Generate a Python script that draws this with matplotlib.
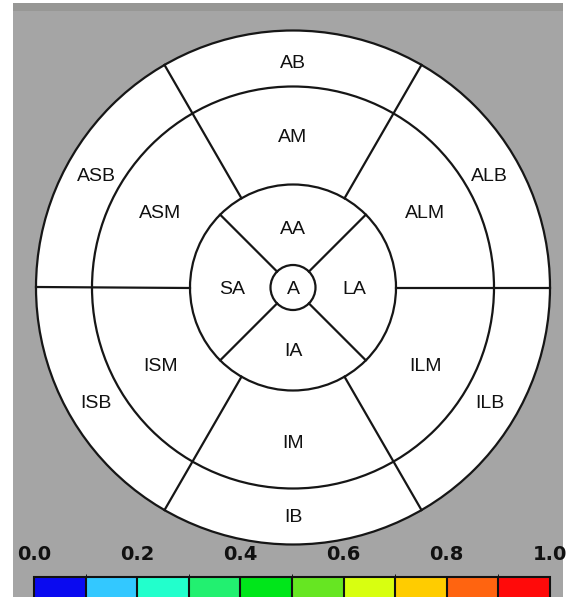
import numpy as np
import matplotlib
matplotlib.use("Agg")
import matplotlib.pyplot as plt
from matplotlib.patches import Circle, Rectangle
from matplotlib.colors import ListedColormap, BoundaryNorm
from matplotlib.cm import ScalarMappable

# --- segment names of the bull's eye (counter-clockwise from top) ---
basal_labels = ["AB", "ASB", "ISB", "IB", "ILB", "ALB"]
basal_angles = [90, 150, 210, 270, 330, 30]
mid_labels = ["AM", "ASM", "ISM", "IM", "ILM", "ALM"]
mid_angles = [90, 150, 210, 270, 330, 30]
apical_labels = ["AA", "SA", "IA", "LA"]
apical_angles = [90, 180, 270, 0]
apex_label = "A"

# segment borders (degrees)
outer_borders = [0, 60, 120, 180, 240, 300]
apical_borders = [45, 135, 225, 315]

# --- colour scale ---
scale_bounds = [0.0, 0.1, 0.2, 0.3, 0.4, 0.5, 0.6, 0.7, 0.8, 0.9, 1.0]
scale_ticks = [0.0, 0.2, 0.4, 0.6, 0.8, 1.0]
scale_colors = ["#0a0af0", "#33c8ff", "#22ffcc", "#22f070", "#00e61a",
                "#66e622", "#d8ff10", "#ffcc00", "#ff6410", "#ff0a0a"]

W, H = 571, 597
fig = plt.figure(figsize=(W / 100, H / 100), dpi=100, facecolor="white")
ax = fig.add_axes([0, 0, 1, 1])
ax.set_xlim(0, W)
ax.set_ylim(H, 0)
ax.axis("off")

# grey panel
ax.add_patch(Rectangle((13, 3), 550, 600, fc="#a5a5a5", ec="none", zorder=0))
ax.add_patch(Rectangle((13, 3), 550, 8, fc="#979795", ec="none", zorder=0))

# geometry (pixels)
cx, cy = 293, 287.5
r_out, r_mid, r_api, r_apex = 257, 201, 103, 22.5
line_c = "#161616"
lw = 1.6

def pt(r, deg, dy=0.0):
    t = np.radians(deg)
    return cx + r * np.cos(t), cy - r * np.sin(t) + dy

ax.add_patch(Circle((cx, cy), r_out, fc="white", ec=line_c, lw=lw, zorder=1))
for r in (r_mid, r_api, r_apex):
    ax.add_patch(Circle((cx, cy), r, fc="none", ec=line_c, lw=lw, zorder=2))

for a in outer_borders:
    x0, y0 = pt(r_api, a)
    x1, y1 = pt(r_out, a)
    ax.plot([x0, x1], [y0, y1], color=line_c, lw=lw, zorder=2)
for a in apical_borders:
    x0, y0 = pt(r_apex, a)
    x1, y1 = pt(r_api, a)
    ax.plot([x0, x1], [y0, y1], color=line_c, lw=lw, zorder=2)

# labels sit a little below the geometric centre of each segment
txt = dict(ha="center", va="center", fontsize=14, family="Liberation Sans",
           color="#111111", zorder=3)
for lab, a in zip(basal_labels, basal_angles):
    ax.text(*pt(227, a, 2.5), lab, **txt)
for lab, a in zip(mid_labels, mid_angles):
    ax.text(*pt(153, a, 2.5), lab, **txt)
for lab, a in zip(apical_labels, apical_angles):
    ax.text(*pt(61, a, 2.5), lab, **txt)
ax.text(cx, cy + 2.5, apex_label, **txt)

# --- colour bar at the bottom ---
cax = fig.add_axes([34 / W, -6 / H, 516 / W, 26 / H])
cmap = ListedColormap(scale_colors)
norm = BoundaryNorm(scale_bounds, cmap.N)
cb = fig.colorbar(ScalarMappable(norm=norm, cmap=cmap), cax=cax,
                  orientation="horizontal", drawedges=True, ticks=scale_ticks)
cb.outline.set_edgecolor("#111111")
cb.outline.set_linewidth(1.5)
cb.dividers.set_color("#111111")
cb.dividers.set_linewidth(1.5)
cax.xaxis.set_ticks_position("top")
cax.tick_params(length=0, pad=9)
cax.set_xticklabels([f"{v:.1f}" for v in scale_ticks], fontsize=14,
                    fontweight="bold", family="DejaVu Sans", color="#111111")

fig.savefig("out.png", dpi=100, facecolor="white")
